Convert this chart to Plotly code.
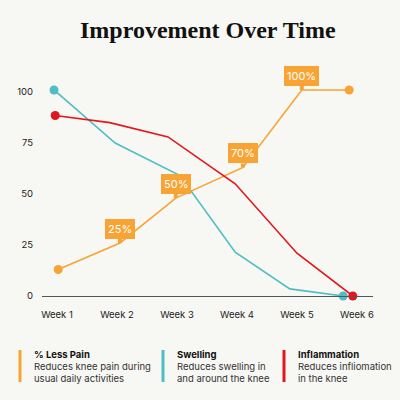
import plotly.graph_objects as go

# ---- data ----
week_labels = ["Week 1", "Week 2", "Week 3", "Week 4", "Week 5", "Week 6"]
week_ticks = [1, 2, 3, 4, 5, 6]

pain_x = [1.02, 2.05, 2.98, 4.1, 5.08, 5.87]
pain_y = [13, 26, 48, 63, 101, 101]
swell_x = [0.95, 1.97, 3.05, 3.97, 4.88, 5.77]
swell_y = [101, 75, 59, 21.5, 3.5, 0]
infl_x = [0.97, 1.88, 2.85, 3.97, 5.0, 5.93]
infl_y = [88.5, 85, 78, 55, 21, 0]

callout_idx = [1, 2, 3, 4]
callout_text = ["25%", "50%", "70%", "100%"]

legend_titles = ["% Less Pain", "Swelling", "Inflammation"]
legend_bodies = ["Reduces knee pain during<br>usual daily activities",
                 "Reduces swelling in<br>and around the knee",
                 "Reduces infliomation<br>in the knee"]

ORANGE = "#F8A435"
TEAL = "#4FBEC4"
RED = "#E3161E"
BG = "#F7F7F3"
FONT = "Inter"

# plot area in pixels
L, R, T, B = 42, 373, 60, 296
W = R - L
H = B - T


def px(x):
    return (x - L) / W


def py(y):
    return (B - y) / H


fig = go.Figure()


def add_series(xs, ys, color):
    fig.add_trace(go.Scatter(x=xs, y=ys, mode="lines",
                             line=dict(color=color, width=1.6),
                             hoverinfo="skip", cliponaxis=False))
    fig.add_trace(go.Scatter(x=[xs[0], xs[-1]], y=[ys[0], ys[-1]], mode="markers",
                             marker=dict(color=color, size=9),
                             hoverinfo="skip", cliponaxis=False))


add_series(pain_x, pain_y, ORANGE)
add_series(swell_x, swell_y, TEAL)
add_series(infl_x, infl_y, RED)

for i, t in zip(callout_idx, callout_text):
    fig.add_annotation(x=pain_x[i], y=pain_y[i], text=t, showarrow=True,
                       ax=0, ay=-14, arrowhead=0, arrowwidth=4, arrowcolor=ORANGE,
                       bgcolor=ORANGE, borderpad=3, bordercolor=ORANGE, borderwidth=0,
                       font=dict(color="white", size=11, family=FONT))

fig.add_annotation(xref="paper", yref="paper", x=0.5, y=py(30), xanchor="center",
                   yanchor="middle", text="<b>Improvement Over Time</b>", showarrow=False,
                   font=dict(family="Liberation Serif", size=24, color="#111111"))

leg_x = [20, 163, 284]
colors = [ORANGE, TEAL, RED]
for lx, c, tt, bd in zip(leg_x, colors, legend_titles, legend_bodies):
    fig.add_shape(type="rect", xref="paper", yref="paper",
                  x0=px(lx - 1.5), x1=px(lx + 1.5), y0=py(350), y1=py(382),
                  fillcolor=c, line=dict(width=0))
    fig.add_annotation(xref="paper", yref="paper", x=px(lx + 12), y=py(347),
                       xanchor="left", yanchor="top", showarrow=False, align="left",
                       text="<b>" + tt + "</b>",
                       font=dict(family=FONT, size=9.5, color="#111111"))
    fig.add_annotation(xref="paper", yref="paper", x=px(lx + 12), y=py(359),
                       xanchor="left", yanchor="top", showarrow=False, align="left",
                       text=bd, font=dict(family=FONT, size=9.5, color="#333333"))

fig.update_layout(
    width=400, height=400, paper_bgcolor=BG, plot_bgcolor=BG,
    margin=dict(l=L, r=400 - R, t=T, b=400 - B),
    showlegend=False,
    xaxis=dict(range=[0.75, 6.267], tickvals=week_ticks, ticktext=week_labels,
               showgrid=False, zeroline=False, showline=True, linecolor="#555555",
               linewidth=1, ticks="", ticklabelstandoff=10,
               tickfont=dict(family=FONT, size=9.5, color="#222222"), fixedrange=True),
    yaxis=dict(range=[0, H / 2.04], tickvals=[0, 25, 50, 75, 100],
               showgrid=False, zeroline=False, showline=False, ticks="",
               ticklabelstandoff=8,
               tickfont=dict(family=FONT, size=9.5, color="#222222"), fixedrange=True),
)

fig.write_html("out.html")
